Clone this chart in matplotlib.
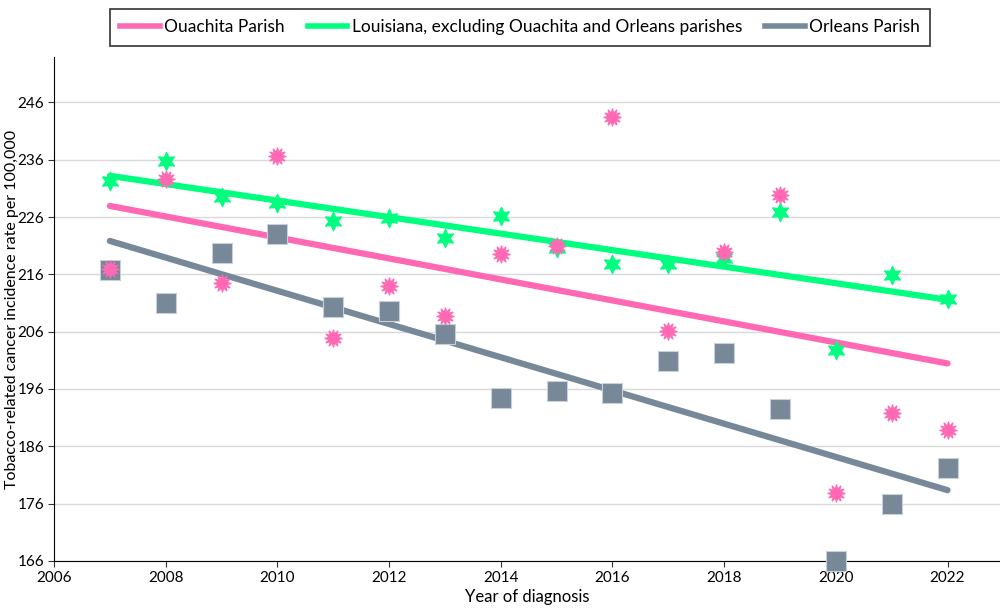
import numpy as np
import matplotlib.pyplot as plt
from matplotlib.lines import Line2D

plt.rcParams['font.family'] = ['Lato', 'DejaVu Sans']

# Data
years = [2007, 2008, 2009, 2010, 2011, 2012, 2013, 2014,
         2015, 2016, 2017, 2018, 2019, 2020, 2021, 2022]
ouachita = [217.0, 232.7, 214.5, 236.7, 204.9, 214.0, 208.8, 219.6,
            221.0, 243.5, 206.1, 219.9, 229.9, 177.9, 191.8, 188.9]
louisiana = [232.3, 235.8, 229.5, 228.5, 225.3, 225.9, 222.4, 226.1,
             220.6, 217.8, 217.8, 218.9, 226.9, 202.8, 215.9, 211.7]
orleans = [216.8, 211.0, 219.8, 223.1, 210.3, 209.6, 205.6, 194.4,
           195.7, 195.3, 200.9, 202.3, 192.5, 166.0, 175.9, 182.2]

labels = ['Ouachita Parish',
          'Louisiana, excluding Ouachita and Orleans parishes',
          'Orleans Parish']
colors = ['#ff69b4', '#00ff7f', '#778899']

fig = plt.figure(figsize=(10, 6.15), dpi=100)
ax = fig.add_axes([0.054, 0.088, 0.946, 0.819])

x = np.array(years)

# linear trend lines (Excel style)
for vals, c in [(ouachita, colors[0]), (louisiana, colors[1]), (orleans, colors[2])]:
    m, b = np.polyfit(x, vals, 1)
    ax.plot(x, m * x + b, color=c, lw=4.5, solid_capstyle='round', zorder=2)

ax.scatter(x, orleans, marker='s', s=200, color=colors[2], edgecolor='#c8d0d8',
           linewidth=0.8, zorder=3, clip_on=False)
ax.scatter(x, louisiana, marker=(6, 1, 0), s=170, color=colors[1], zorder=4)
ax.scatter(x, ouachita, marker=(12, 1, 0), s=150, color=colors[0], zorder=5)

ax.set_xlim(2006, 2022.94)
ax.set_ylim(166, 253.9)
ax.set_xticks(range(2006, 2023, 2))
ax.set_yticks(range(166, 247, 10))
ax.yaxis.grid(True, color='#d9d9d9', lw=1)
ax.set_axisbelow(True)
for s in ['top', 'right']:
    ax.spines[s].set_visible(False)
ax.tick_params(labelsize=11, length=4, color='#333333', pad=3)
ax.set_xlabel('Year of diagnosis', fontsize=12, labelpad=3)
ax.set_ylabel('Tobacco-related cancer incidence rate per 100,000', fontsize=11.5)
ax.yaxis.set_label_coords(-0.037, 0.5)

handles = [Line2D([], [], color=c, lw=4) for c in colors]
leg = fig.legend(handles, labels, loc='upper center', bbox_to_anchor=(0.52, 1.0),
                 ncol=3, fontsize=12.5, frameon=True, fancybox=False,
                 edgecolor='black', handlelength=2.3, handletextpad=0.25,
                 columnspacing=1.3, borderpad=0.6)
leg.get_frame().set_linewidth(1.2)

fig.savefig('out.png', dpi=100)
